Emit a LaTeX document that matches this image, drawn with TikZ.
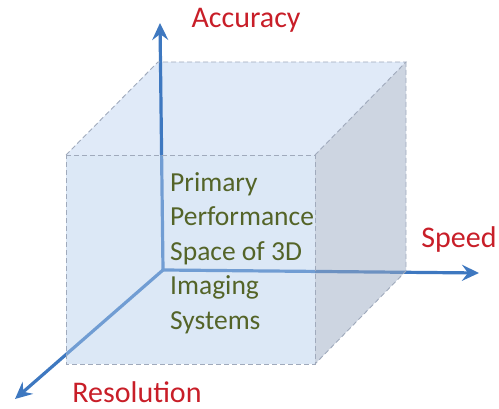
\documentclass[tikz,border=0pt]{standalone}
\usepackage{fontspec}
\setmainfont{Carlito}
\usetikzlibrary{arrows.meta}
\definecolor{axisblue}{RGB}{62,120,192}
\definecolor{labred}{RGB}{200,30,40}
\definecolor{txtgreen}{RGB}{84,100,40}
\definecolor{frontc}{RGB}{177,204,235}
\definecolor{topc}{RGB}{224,234,248}
\definecolor{sidec}{RGB}{155,171,195}
\definecolor{edgec}{RGB}{160,170,188}
\begin{document}
\begin{tikzpicture}[x=1pt,y=1pt,
  axis/.style={draw=axisblue,line width=3.2pt,-{Stealth[length=17pt,width=16pt,inset=6pt]}},
  edge/.style={draw=edgec,dash pattern=on 5pt off 3pt,line width=0.9pt},
  lab/.style={text=labred,font=\fontsize{30}{36}\selectfont,inner sep=0pt},
  body/.style={text=txtgreen,font=\fontsize{27.5}{34.5}\selectfont,align=left,inner sep=0pt,anchor=north west}]
\useasboundingbox (0,0) rectangle (499,409);
% axis points
\coordinate (O) at (163,139);
\coordinate (Ay) at (160,386);
\coordinate (Ax) at (479,136);
\coordinate (Az) at (15,10);
% cube corners
\coordinate (ftl) at (66,254);
\coordinate (ftr) at (315,254);
\coordinate (fbr) at (315,45);
\coordinate (fbl) at (66,45);
\coordinate (btl) at (158,347);
\coordinate (btr) at (406,347);
\coordinate (bbr) at (406,138);
\fill[topc] (ftl) -- (btl) -- (btr) -- (ftr) -- cycle;
\draw[axis] (O) -- (Ay);
\draw[axis] (O) -- (Ax);
\draw[axis] (O) -- (Az);
\fill[sidec,fill opacity=0.5] (ftr) -- (btr) -- (bbr) -- (fbr) -- cycle;
\fill[frontc,fill opacity=0.45] (ftl) -- (ftr) -- (fbr) -- (fbl) -- cycle;
\draw[edge] (ftl) -- (ftr) -- (fbr) -- (fbl) -- cycle;
\draw[edge] (ftl) -- (btl) -- (btr) -- (ftr);
\draw[edge] (btr) -- (bbr) -- (fbr);
% labels
\node[lab] (acc) at (246,389) {Accuracy};
\node[lab] (spd) at (459,169) {Speed};
\node[lab] (res) at (137,17) {Resolution};
\node[body] (txt) at (170,237) {Primary\\Performance\\Space of 3D\\Imaging\\Systems};
\end{tikzpicture}
\end{document}
